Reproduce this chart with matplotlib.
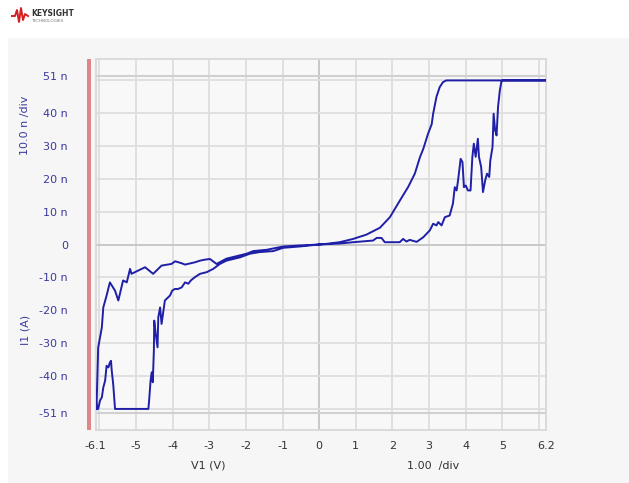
import numpy as np
import matplotlib.pyplot as plt
from matplotlib.patches import Rectangle

# V1 (V) / I1 (nA) sweep segments
v_pos_fwd = [0.0, 0.56, 0.93, 1.47, 1.57, 1.70, 1.79, 2.20, 2.29, 2.38, 2.47, 2.66, 2.84,
             3.02, 3.11, 3.20, 3.25, 3.34, 3.43, 3.56, 3.65, 3.70, 3.75, 3.79, 3.86, 3.91,
             3.95, 4.00, 4.06, 4.13, 4.18, 4.22, 4.27, 4.33, 4.36, 4.42, 4.47, 4.53, 4.58,
             4.64, 4.67, 4.73, 4.76, 4.80, 4.84, 4.88, 4.93, 4.97, 5.00, 6.20]
i_pos_fwd = [0.0, 0.3, 0.7, 1.2, 2.0, 2.0, 0.7, 0.7, 1.7, 0.9, 1.4, 0.8, 2.2,
             4.3, 6.3, 5.8, 6.8, 5.8, 8.3, 8.8, 12.4, 17.4, 16.4, 19.5, 26.0, 25.0,
             17.4, 17.9, 16.4, 16.4, 26.6, 30.6, 26.6, 32.1, 26.6, 23.5, 15.9, 19.5, 21.5,
             20.5, 25.5, 29.6, 39.7, 34.7, 33.1, 41.7, 46.8, 49.3, 49.8, 49.8]

v_pos_back = [6.20, 3.47, 3.38, 3.29, 3.20, 3.11, 3.07, 2.97, 2.84, 2.75, 2.61, 2.43,
              2.20, 1.93, 1.66, 1.29, 0.93, 0.56, 0.20, 0.0]
i_pos_back = [49.8, 49.8, 49.3, 47.8, 44.8, 39.7, 36.5, 33.6, 29.0, 26.5, 21.5, 17.5,
              13.3, 8.3, 5.1, 3.0, 1.7, 0.7, 0.2, 0.0]

v_neg_fwd = [0.0, -0.53, -0.98, -1.43, -1.80, -1.98, -2.53, -2.80, -2.98, -3.12, -3.25,
             -3.39, -3.66, -3.75, -3.93, -4.03, -4.30, -4.53, -4.75, -5.12, -5.16, -5.25,
             -5.35, -5.48, -5.57, -5.71, -5.80, -5.89, -5.93, -6.03, -6.07, -6.06]
i_neg_fwd = [0.0, -0.3, -0.6, -1.6, -2.0, -2.8, -4.3, -5.9, -4.4, -4.6, -4.9,
             -5.4, -6.1, -5.7, -5.1, -5.9, -6.4, -8.9, -6.9, -8.9, -7.4, -11.5,
             -10.9, -17.0, -14.0, -11.5, -15.5, -19.1, -25.2, -31.3, -47.4, -50.0]

v_neg_back = [-6.07, -6.03, -5.98, -5.93, -5.89, -5.84, -5.80, -5.75, -5.71, -5.68, -5.66,
              -5.62, -5.57, -4.66, -4.64, -4.60, -4.57, -4.54, -4.51, -4.50, -4.46, -4.41,
              -4.39, -4.34, -4.30, -4.25, -4.21, -4.07, -4.01, -3.94, -3.85, -3.75, -3.66,
              -3.57, -3.50, -3.39, -3.25, -3.07, -2.89, -2.71, -2.53, -2.16, -1.89, -1.62,
              -1.25, -0.98, -0.53, 0.0]
i_neg_back = [-48.9, -49.9, -47.4, -46.4, -43.4, -41.3, -36.8, -37.3, -35.8, -35.3, -38.3,
              -42.3, -49.9, -49.9, -47.4, -41.3, -38.8, -41.8, -32.2, -23.1, -27.1, -31.2,
              -22.1, -19.1, -24.1, -20.1, -17.0, -15.5, -14.0, -13.5, -13.5, -13.0, -11.5,
              -11.9, -10.9, -9.9, -8.9, -8.4, -7.4, -5.9, -4.9, -3.9, -2.8, -2.3,
              -2.0, -1.0, -0.6, 0.0]

x_ticks = [-6.1, -5, -4, -3, -2, -1, 0, 1, 2, 3, 4, 5, 6.2]
x_labels = ['-6.1', '-5', '-4', '-3', '-2', '-1', '0', '1', '2', '3', '4', '5', '6.2']
y_ticks = [-51, -40, -30, -20, -10, 0, 10, 20, 30, 40, 51]
y_labels = ['-51 n', '-40 n', '-30 n', '-20 n', '-10 n', '0', '10 n', '20 n', '30 n', '40 n', '51 n']

plt.rcParams['font.family'] = ['DejaVu Sans']

W, H = 629, 483
fig = plt.figure(figsize=(W / 100, H / 100), dpi=100, facecolor='white')

# grey instrument panel behind the plot
fig.patches.append(Rectangle((8 / W, 0), 1, 1 - 38 / H, transform=fig.transFigure,
                             facecolor='#f6f6f6', edgecolor='none', zorder=-10))

ax = fig.add_axes([95.6 / W, 1 - 430 / H, (546.4 - 95.6) / W, (430 - 59) / H])
ax.set_facecolor('#f8f8f8')
ax.set_xlim(-6.1, 6.2)
ax.set_ylim(-56.3, 56.3)

for xv in range(-6, 7):
    ax.axvline(xv, color='#c4c4c4' if xv == 0 else '#dedede', lw=1.3, zorder=1)
for yv in range(-50, 51, 10):
    ax.axhline(yv, color='#c4c4c4' if yv == 0 else '#dedede', lw=1.3, zorder=1)
for yv in (-51, 51):
    ax.axhline(yv, color='#d0d0d0', lw=1.5, zorder=1)

for s in ax.spines.values():
    s.set_color('#d8d8d8')
    s.set_linewidth(1.3)

v = np.concatenate([v_pos_fwd, v_pos_back, v_neg_fwd, v_neg_back])
i = np.concatenate([i_pos_fwd, i_pos_back, i_neg_fwd, i_neg_back])
ax.plot(v, i, color='#1f1fa8', lw=1.4, zorder=3)

ax.set_xticks(x_ticks)
ax.set_xticklabels(x_labels, fontsize=8, color='#333333')
ax.set_yticks(y_ticks)
ax.set_yticklabels(y_labels, fontsize=8, color='#3a3aa0')
ax.tick_params(axis='x', length=0, pad=8)
ax.tick_params(axis='y', length=0, pad=20)

# red marker bar at left edge of the plot
fig.patches.append(Rectangle((87 / W, 1 - 430 / H), 4 / W, (430 - 59) / H,
                             transform=fig.transFigure, facecolor='#e08686',
                             edgecolor='none', zorder=5))

fig.text(25 / W, 1 - 125 / H, '10.0 n /div', rotation=90, ha='center', va='center',
         fontsize=8, color='#3a3aa0')
fig.text(25 / W, 1 - 330 / H, 'I1 (A)', rotation=90, ha='center', va='center',
         fontsize=8, color='#3a3aa0')
fig.text(208 / W, 1 - 466 / H, 'V1 (V)', ha='center', va='center', fontsize=8, color='#333333')
fig.text(433 / W, 1 - 466 / H, '1.00  /div', ha='center', va='center', fontsize=8, color='#333333')

# Keysight logo
logo_x = np.array([12, 15, 17, 19, 21, 23, 25, 28]) / W
logo_y = 1 - np.array([16, 16, 10, 22, 8, 20, 14, 16]) / H
fig.lines.append(plt.Line2D(logo_x, logo_y, transform=fig.transFigure, color='#d42020', lw=1.4))
fig.text(31 / W, 1 - 13 / H, 'KEYSIGHT', fontsize=5.5, fontweight='bold', color='#333333',
         va='center')
fig.text(31 / W, 1 - 21 / H, 'TECHNOLOGIES', fontsize=3, color='#777777', va='center')

fig.savefig('out.png', dpi=100, facecolor=fig.get_facecolor())
